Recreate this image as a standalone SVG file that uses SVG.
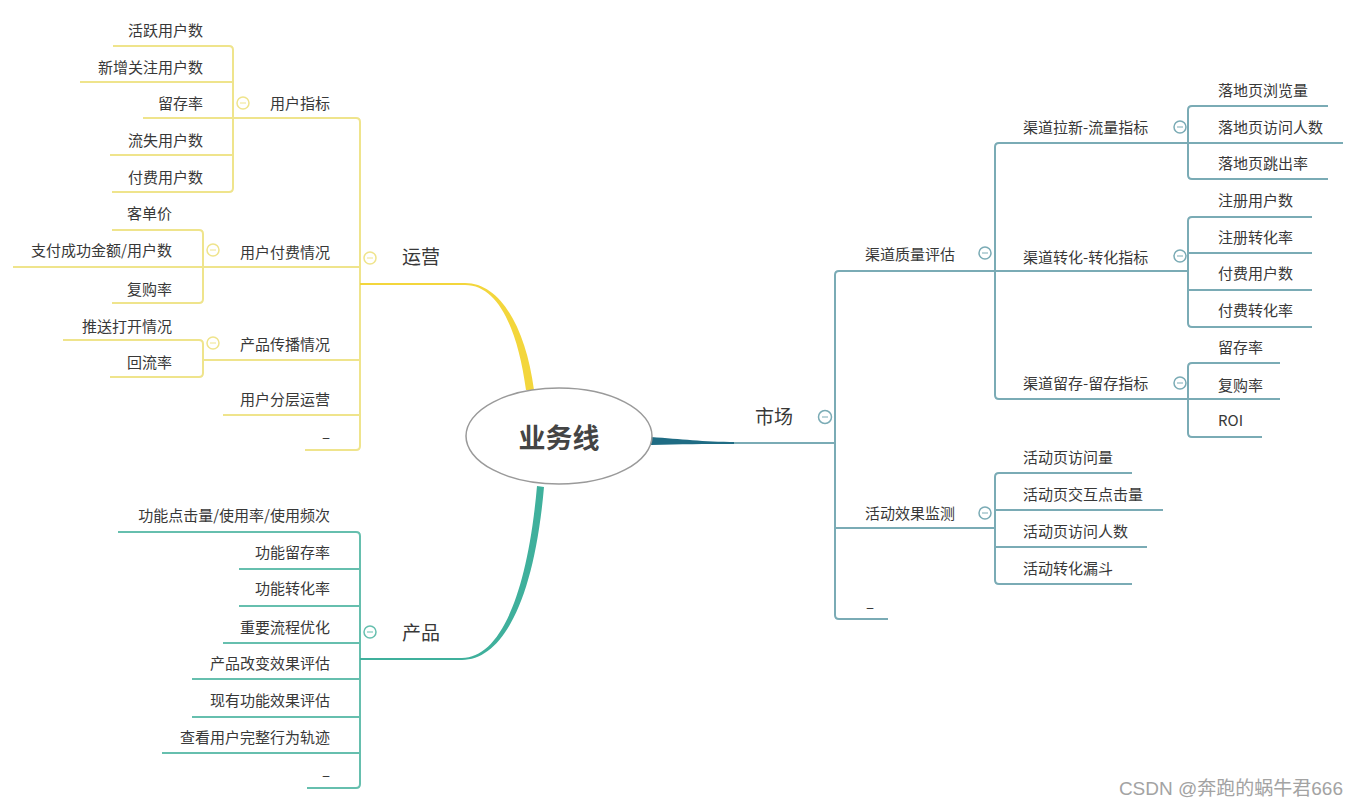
<svg xmlns="http://www.w3.org/2000/svg" width="1359" height="806" viewBox="0 0 1359 806">
<style>
text{font-family:"Noto Sans CJK SC","Noto Sans",sans-serif;fill:#383838;font-size:15px}
.e{text-anchor:end}
.big{font-size:19px}
.y{fill:none;stroke:#efe48c;stroke-width:2}
.g{fill:none;stroke:#66bfae;stroke-width:2}
.b{fill:none;stroke:#7aabb5;stroke-width:2}
.cy{fill:#fff;stroke:#efe48c;stroke-width:1.5}
.cg{fill:#fff;stroke:#66bfae;stroke-width:1.5}
.cb{fill:#fff;stroke:#7aabb5;stroke-width:1.5}
.m{stroke-width:1;fill:none}
.wm{font-family:"Liberation Sans","Noto Sans CJK SC",sans-serif;font-size:19px;fill:#a3a3a3;text-anchor:end}
</style>
<rect width="1359" height="806" fill="#fff"/>
<g id="connectors">
<!-- 运营 (yellow) -->
<path class="y" d="M113 46H229Q233 46 233 50V188Q233 192 229 192H112"/>
<path class="y" d="M80 82H233M110 155H233"/>
<path class="y" d="M143 118H356Q360 118 360 122V446Q360 450 356 450H305"/>
<path class="y" d="M112 230H199Q203 230 203 234V299Q203 303 199 303H112"/>
<path class="y" d="M13 267H360"/>
<path class="y" d="M63 340H199Q203 340 203 344V373Q203 377 199 377H110"/>
<path class="y" d="M203 360H360M223 415H360"/>
<path d="M360 283H465C501 283 526 329 534 390L526 390C518 331 499 285 465 285H360Z" fill="#f3d63c"/>
<!-- 产品 (teal) -->
<path class="g" d="M118 532H356Q360 532 360 536V784Q360 788 356 788H307"/>
<path class="g" d="M239 569H360M239 606H360M223 643H360M192 679H360M192 717H360M162 753H360"/>
<path d="M360 658H462C498 658 527 600 537 486L544 487C534 602 502 660 462 660H360Z" fill="#3fb09c"/>
<!-- 市场 (blue teal) -->
<path d="M651 437C682 439 702 442 736 442L736 444C702 444 682 444 651 445Z" fill="#1f6c84"/>
<path class="b" d="M734 443H835"/>
<path class="b" d="M1188 271H839Q835 271 835 275V615Q835 619 839 619H888"/>
<path class="b" d="M1343 143H999Q995 143 995 147V395Q995 399 999 399H1280"/>
<path class="b" d="M1328 106H1192Q1188 106 1188 110V175Q1188 179 1192 179H1328"/>
<path class="b" d="M1312 217H1192Q1188 217 1188 221V323Q1188 327 1192 327H1312"/>
<path class="b" d="M1188 253H1312M1188 290H1312"/>
<path class="b" d="M1280 363H1192Q1188 363 1188 367V433Q1188 437 1192 437H1262"/>
<path class="b" d="M1132 473H999Q995 473 995 477V580Q995 584 999 584H1132"/>
<path class="b" d="M995 510H1163M995 547H1147M835 528H995"/>
</g>
<g id="root">
<ellipse cx="559" cy="436" rx="93" ry="48" fill="#fff" stroke="#9a9a9a" stroke-width="1.5"/>
<text x="559" y="448" text-anchor="middle" style="font-size:27px;font-weight:bold;fill:#444">业务线</text>
</g>
<g id="yunying">
<circle class="cy" cx="370" cy="258" r="6"/><path class="m" stroke="#efe48c" d="M367 258H373"/>
<text class="big" x="402" y="264">运营</text>
</g>
<g id="yonghuzhibiao">
<circle class="cy" cx="243" cy="103" r="6"/><path class="m" stroke="#efe48c" d="M240 103H246"/>
<text class="e" x="330" y="108.5">用户指标</text>
</g>
<g id="n-huoyue"><text class="e" x="203" y="35.5">活跃用户数</text></g>
<g id="n-xinzeng"><text class="e" x="203" y="72.5">新增关注用户数</text></g>
<g id="n-liucun1"><text class="e" x="203" y="108.5">留存率</text></g>
<g id="n-liushi"><text class="e" x="203" y="145.5">流失用户数</text></g>
<g id="n-fufei1"><text class="e" x="203" y="182.5">付费用户数</text></g>
<g id="yonghufufei">
<circle class="cy" cx="213" cy="250" r="6"/><path class="m" stroke="#efe48c" d="M210 250H216"/>
<text class="e" x="330" y="257.5">用户付费情况</text>
</g>
<g id="n-kedanjia"><text class="e" x="172" y="218.5">客单价</text></g>
<g id="n-zhifu"><text class="e" x="172" y="255.5">支付成功金额/用户数</text></g>
<g id="n-fugou1"><text class="e" x="172" y="294.5">复购率</text></g>
<g id="chanpinchuanbo">
<circle class="cy" cx="213" cy="343" r="6"/><path class="m" stroke="#efe48c" d="M210 343H216"/>
<text class="e" x="330" y="349.5">产品传播情况</text>
</g>
<g id="n-tuisong"><text class="e" x="172" y="332">推送打开情况</text></g>
<g id="n-huiliu"><text class="e" x="172" y="367.5">回流率</text></g>
<g id="n-fenceng"><text class="e" x="330" y="405">用户分层运营</text></g>
<g id="n-more1"><text class="e" x="330" y="442.5">–</text></g>
<g id="chanpin">
<circle class="cg" cx="370" cy="632" r="6"/><path class="m" stroke="#66bfae" d="M367 632H373"/>
<text class="big" x="402" y="640">产品</text>
</g>
<g id="n-p1"><text class="e" x="330" y="520.5">功能点击量/使用率/使用频次</text></g>
<g id="n-p2"><text class="e" x="330" y="557.5">功能留存率</text></g>
<g id="n-p3"><text class="e" x="330" y="593.5">功能转化率</text></g>
<g id="n-p4"><text class="e" x="330" y="632.5">重要流程优化</text></g>
<g id="n-p5"><text class="e" x="330" y="668.5">产品改变效果评估</text></g>
<g id="n-p6"><text class="e" x="330" y="705.5">现有功能效果评估</text></g>
<g id="n-p7"><text class="e" x="330" y="742.5">查看用户完整行为轨迹</text></g>
<g id="n-p8"><text class="e" x="330" y="780.5">–</text></g>
<g id="shichang">
<circle class="cb" cx="825" cy="417" r="6.5"/><path class="m" stroke="#7aabb5" d="M822 417H828"/>
<text class="big" x="755" y="424">市场</text>
</g>
<g id="qudaozhiliang">
<circle class="cb" cx="985" cy="253" r="6"/><path class="m" stroke="#7aabb5" d="M982 253H988"/>
<text x="865" y="259.5">渠道质量评估</text>
</g>
<g id="laxin">
<circle class="cb" cx="1180" cy="127" r="6"/><path class="m" stroke="#7aabb5" d="M1177 127H1183"/>
<text x="1023" y="132.5">渠道拉新-流量指标</text>
</g>
<g id="n-m1"><text x="1218" y="95.5">落地页浏览量</text></g>
<g id="n-m2"><text x="1218" y="132.5">落地页访问人数</text></g>
<g id="n-m3"><text x="1218" y="168.5">落地页跳出率</text></g>
<g id="zhuanhua">
<circle class="cb" cx="1180" cy="256" r="6"/><path class="m" stroke="#7aabb5" d="M1177 256H1183"/>
<text x="1023" y="262.5">渠道转化-转化指标</text>
</g>
<g id="n-m4"><text x="1218" y="205.5">注册用户数</text></g>
<g id="n-m5"><text x="1218" y="242.5">注册转化率</text></g>
<g id="n-m6"><text x="1218" y="278.5">付费用户数</text></g>
<g id="n-m7"><text x="1218" y="315.5">付费转化率</text></g>
<g id="liucun">
<circle class="cb" cx="1180" cy="383" r="6"/><path class="m" stroke="#7aabb5" d="M1177 383H1183"/>
<text x="1023" y="388.5">渠道留存-留存指标</text>
</g>
<g id="n-m8"><text x="1218" y="352.5">留存率</text></g>
<g id="n-m9"><text x="1218" y="390.5">复购率</text></g>
<g id="n-m10"><text x="1218" y="425.5">ROI</text></g>
<g id="huodong">
<circle class="cb" cx="985" cy="513" r="6"/><path class="m" stroke="#7aabb5" d="M982 513H988"/>
<text x="865" y="518.5">活动效果监测</text>
</g>
<g id="n-a1"><text x="1023" y="462.5">活动页访问量</text></g>
<g id="n-a2"><text x="1023" y="499.5">活动页交互点击量</text></g>
<g id="n-a3"><text x="1023" y="536.5">活动页访问人数</text></g>
<g id="n-a4"><text x="1023" y="573.5">活动转化漏斗</text></g>
<g id="n-more2"><text x="866" y="612.5">–</text></g>
<text class="wm" x="1343" y="795">CSDN @奔跑的蜗牛君666</text>
</svg>
